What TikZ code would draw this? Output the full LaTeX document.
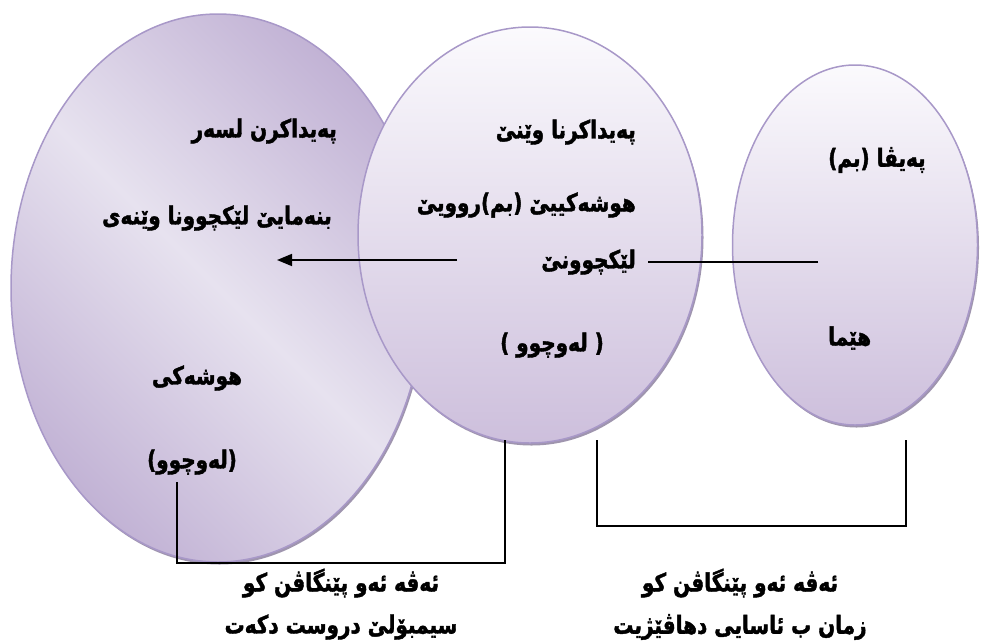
\documentclass[tikz,border=0pt]{standalone}
\usepackage{fontspec}
\usepackage{tikz}
\usetikzlibrary{arrows.meta,shapes.geometric,shadows}
\newfontfamily\kufont[Script=Arabic, FakeStretch=0.8, BoldFeatures={FakeBold=1.6}]{DejaVu Sans}
\TeXXeTstate=1
\newcommand{\kutext}[1]{\beginR #1\endR}
\definecolor{rimcol}{HTML}{A898C8}
\definecolor{shadecol}{HTML}{9F95AE}
\definecolor{lightcol}{HTML}{E7E2EF}
\definecolor{darkcol}{HTML}{C2B3D5}
\definecolor{topcol}{HTML}{FBFAFD}
\definecolor{botcol}{HTML}{CDBFDC}
\tikzset{
  blob/.style={ellipse, draw=rimcol, line width=1.5pt, inner sep=0pt,
    general shadow={shadow xshift=1.5pt, shadow yshift=-2.5pt, fill=shadecol}},
  kutxt/.style={font=\kufont\bfseries\fontsize{25}{27}\selectfont, inner sep=0pt},
  link/.style={line width=1.6pt, black}
}
\begin{document}
\begin{tikzpicture}[x=1pt,y=1pt]
\tikzstyle{every node}+=[inner sep=0pt]
\useasboundingbox (0,0) rectangle (984,-641);
% ellipses
\node [blob, minimum width=414, minimum height=548, left color=darkcol, right color=darkcol, middle color=lightcol, shading angle=-45] (memory) at (218,-288) {};
\node [blob, minimum width=344, minimum height=416, top color=topcol, bottom color=botcol] (image) at (530,-235) {};
\node [blob, minimum width=245, minimum height=360, top color=topcol, bottom color=botcol] (word) at (855,-245) {};
% texts of the left one
\node [kutxt, anchor=east] (m1) at (337,-131) {\kutext{پەیداکرن لسەر}};
\node [kutxt, anchor=east] (m2) at (332,-218) {\kutext{بنەمایێ لێکچوونا وێنەی}};
\node [kutxt] (m3) at (197,-378) {\kutext{هوشەکی}};
\node [kutxt] (m4) at (192,-462) {\kutext{(لەوچوو)}};
% texts of the middle one
\node [kutxt, anchor=east] (i1) at (636,-132) {\kutext{پەیداکرنا وێنێ}};
\node [kutxt, anchor=east] (i2) at (636,-205) {\kutext{هوشەکییێ (بم)روویێ}};
\node [kutxt, anchor=east] (i3) at (636,-262) {\kutext{لێکچوونێ}};
\node [kutxt] (i4) at (552,-345) {\kutext{( لەوچوو )}};
% texts of the right one
\node [kutxt, anchor=west] (w1) at (828,-160) {\kutext{پەیڤا (بم)}};
\node [kutxt, anchor=west] (w2) at (828,-338) {\kutext{هێما}};
% texts below
\node [kutxt] (s1) at (341,-583) {\kutext{ئەڤە ئەو پێنگاڤن کو}};
\node [kutxt] (s2) at (341,-627) {\kutext{سیمبۆلێ دروست دکەت}};
\node [kutxt] (t1) at (740,-583) {\kutext{ئەڤە ئەو پێنگاڤن کو}};
\node [kutxt] (t2) at (740,-627) {\kutext{زمان ب ئاسایی دهاڤێژیت}};
% connectors
\coordinate (a1) at (457,-260);
\coordinate (a2) at (277,-260);
\coordinate (r1) at (818,-262);
\coordinate (r2) at (648,-262);
\draw [link, -{Triangle[length=15pt,width=12pt]}] (a1) -- (a2);
\draw [link] (r1) -- (r2);
\coordinate (b1) at (177,-482);
\coordinate (b2) at (505,-440);
\draw [link] (b1) -- (177,-563) -- (505,-563) -- (b2);
\coordinate (c1) at (597,-440);
\coordinate (c2) at (906,-440);
\draw [link] (c1) -- (597,-526) -- (906,-526) -- (c2);
\end{tikzpicture}
\end{document}
